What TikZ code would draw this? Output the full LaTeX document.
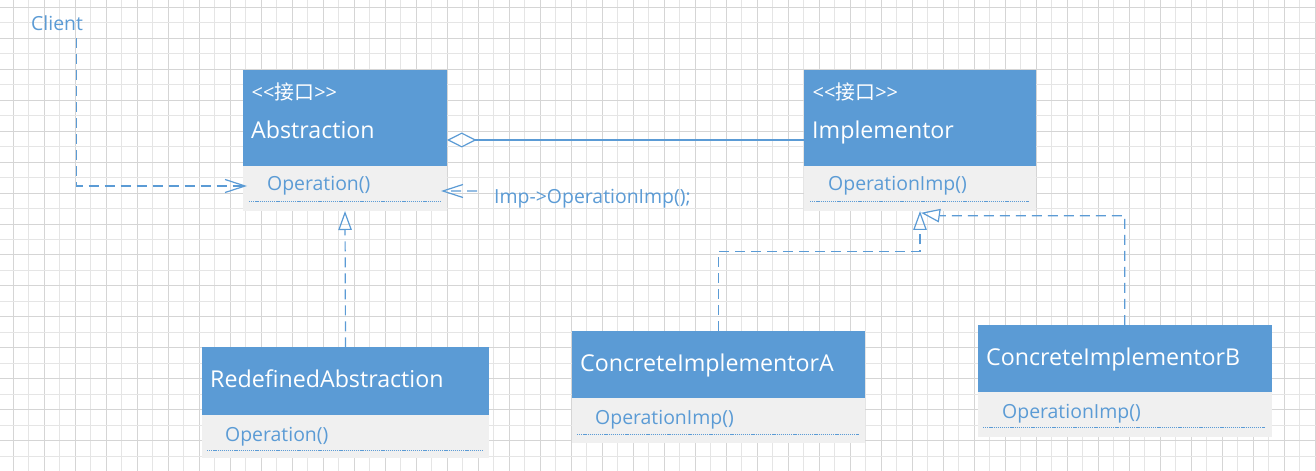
\documentclass[tikz,border=0pt]{standalone}
\usepackage{fontspec}
\setmainfont{Open Sans}
\newfontfamily\cjk{Noto Sans CJK SC}
\usetikzlibrary{arrows.meta}

\definecolor{umlblue}{HTML}{5B9BD5}
\definecolor{opgray}{HTML}{F0F0F0}
\definecolor{gridmajor}{HTML}{D5D5D5}
\definecolor{gridminor}{HTML}{E5E5E5}

\tikzset{
  header/.style={fill=umlblue, draw=none, anchor=north west, inner sep=0pt, outer sep=0pt},
  body/.style={fill=opgray, draw=none, anchor=north west, inner sep=0pt, outer sep=0pt},
  title/.style={anchor=base west, inner sep=0pt, text=white, font=\fontsize{23.3}{28}\selectfont},
  stereo/.style={anchor=base west, inner sep=0pt, text=white, font=\fontsize{20}{24}\selectfont},
  member/.style={anchor=base west, inner sep=0pt, text=umlblue, font=\fontsize{19.5}{23}\selectfont},
  sep/.style={umlblue, line width=0.7bp, dash pattern=on 1.2bp off 0.9bp},
  dep/.style={umlblue, line width=1.2bp, dash pattern=on 10bp off 6bp,
    -{Straight Barb[length=20bp, width=13bp]}},
  gen/.style={umlblue, line width=1.2bp, dash pattern=on 10bp off 6bp,
    -{Triangle[open, length=19bp, width=13.5bp]}},
  agg/.style={umlblue, line width=1.2bp, {Diamond[open, length=29.5bp, width=15bp]}-},
}

\newcommand{\stereotype}{<\kern0pt<{\cjk 接口}>\kern0pt>}

\begin{document}
\begin{tikzpicture}[x=1bp, y=-1bp]
  \useasboundingbox (0,0) rectangle (1316,471);
  \fill[white] (0,0) rectangle (1316,471);

  % background grid, darker every second line
  \foreach \k in {0,...,84}{
    \ifodd\k \def\gc{gridminor}\else\def\gc{gridmajor}\fi
    \draw[\gc, line width=1bp] ({13.3+15.5*\k},0) -- ({13.3+15.5*\k},471);
  }
  \foreach \k in {0,...,29}{
    \ifodd\k \def\gc{gridminor}\else\def\gc{gridmajor}\fi
    \draw[\gc, line width=1bp] (0,{7.3+15.48*\k}) -- (1316,{7.3+15.48*\k});
  }

  % Abstraction
  \node[header, minimum width=204bp, minimum height=96bp] (abs) at (243,70) {};
  \node[body, minimum width=204bp, minimum height=45bp] (absops) at (243,166) {};
  \node[stereo] (absst) at (251.5,100) {\stereotype};
  \node[title] (absname) at (251,139) {Abstraction};
  \node[member] (absop) at (267,191) {Operation()};
  \draw[sep] (249,201.3) -- (441.7,201.3);

  % Implementor
  \node[header, minimum width=232bp, minimum height=96bp] (impl) at (804,70) {};
  \node[body, minimum width=232bp, minimum height=45bp] (implops) at (804,166) {};
  \node[stereo] (implst) at (812.5,100) {\stereotype};
  \node[title] (implname) at (812,139) {Implementor};
  \node[member] (implop) at (828,191) {OperationImp()};
  \draw[sep] (810,201.3) -- (1029,201.3);

  % RedefinedAbstraction
  \node[header, minimum width=287bp, minimum height=67.7bp] (redef) at (202,347.3) {};
  \node[body, minimum width=287bp, minimum height=43.3bp] (redefops) at (202,415) {};
  \node[title] (redefname) at (210,387) {RedefinedAbstraction};
  \node[member] (redefop) at (225,441) {Operation()};
  \draw[sep] (207,450) -- (483,450);

  % ConcreteImplementorA
  \node[header, minimum width=293bp, minimum height=66.7bp] (cia) at (572,331) {};
  \node[body, minimum width=293bp, minimum height=45bp] (ciaops) at (572,397.7) {};
  \node[title] (cianame) at (580,371.7) {ConcreteImplementorA};
  \node[member] (ciaop) at (595,424) {OperationImp()};
  \draw[sep] (577,434.3) -- (859,434.3);

  % ConcreteImplementorB
  \node[header, minimum width=294bp, minimum height=66.7bp] (cib) at (977.7,325) {};
  \node[body, minimum width=294bp, minimum height=45bp] (cibops) at (977.7,391.7) {};
  \node[title] (cibname) at (986,365) {ConcreteImplementorB};
  \node[member] (cibop) at (1002,418) {OperationImp()};
  \draw[sep] (983,427.7) -- (1265,427.7);

  % client and note
  \node[member] (client) at (31,30.5) {Client};
  \node[member] (note) at (494,203.3) {Imp->OperationImp();};
  \coordinate (impcall) at (477,191);

  % connectors
  \draw[dep] ([xshift=-7bp, yshift=-7.5bp]client.south east)
    |- ([xshift=4bp, yshift=2.5bp]absops.west);
  \draw[dep] (impcall) -- ([xshift=-6bp, yshift=-2.5bp]absops.east);
  \draw[agg] ([yshift=-22bp]abs.east) -- ([yshift=-22bp]impl.west);
  \draw[gen] (redef.north) -- (absops.south);
  \draw[gen] (cia.north) -- ++(0,-79.3) -| (implops.south);
  \draw[gen] (cib.north) |- ([xshift=21bp, yshift=-4.8bp]implops.south)
    -- ([xshift=1bp, yshift=-1.8bp]implops.south);
\end{tikzpicture}
\end{document}
